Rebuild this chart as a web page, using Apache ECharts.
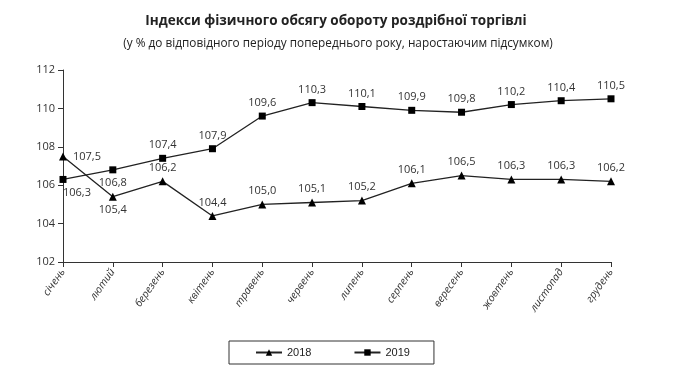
<!DOCTYPE html>
<html><head><meta charset="utf-8">
<script src="https://cdn.jsdelivr.net/npm/echarts@6/dist/echarts.min.js"></script>
<style>html,body{margin:0;padding:0;background:#fff}#c{width:690px;height:374px}</style>
</head><body><div id="c"></div>
<script>
const categories = ['січень','лютий','березень','квітень','травень','червень','липень','серпень','вересень','жовтень','листопад','грудень'];
const values2018 = [107.5,105.4,106.2,104.4,105.0,105.1,105.2,106.1,106.5,106.3,106.3,106.2];
const values2019 = [106.3,106.8,107.4,107.9,109.6,110.3,110.1,109.9,109.8,110.2,110.4,110.5];
const yTicks = [102,104,106,108,110,112];
const title = 'Індекси фізичного обсягу обороту роздрібної торгівлі';
const subtitle = '(у % до відповідного періоду попереднього року, наростаючим підсумком)';

const fmt = v => v.toFixed(1).replace('.', ',');
const labelPos2018 = {0:{position:'right',offset:[2,0]},1:{position:'bottom'}};
const labelPos2019 = {0:{position:'bottom',offset:[14,0]},1:{position:'bottom'}};
function mk(vals, pos){
  return vals.map((v,i)=> pos[i] ? {value:v, label:pos[i]} : v);
}
const font = '"Open Sans", sans-serif';
const chart = echarts.init(document.getElementById('c'));
chart.setOption({
  animation:false,
  textStyle:{fontFamily:font},
  title:[
    {text:title,left:331,top:9,textAlign:'center',textStyle:{fontFamily:font,fontSize:13.5,fontWeight:'bold',color:'#222'}},
    {text:subtitle,left:333,top:33,textAlign:'center',textStyle:{fontFamily:font,fontSize:11.8,fontWeight:'normal',color:'#222'}}
  ],
  grid:{left:63,right:79,top:70,bottom:112},
  xAxis:{type:'category',data:categories,boundaryGap:false,
    axisLine:{lineStyle:{color:'#333',width:1}},
    axisTick:{show:true,alignWithLabel:true,length:5,lineStyle:{color:'#333'}},
    axisLabel:{rotate:55,interval:0,fontSize:10.5,fontStyle:'italic',color:'#333',margin:8,fontFamily:font}},
  yAxis:{type:'value',min:102,max:112,interval:2,
    splitLine:{show:false},
    axisLine:{show:true,lineStyle:{color:'#333'}},
    axisTick:{show:true,length:5,lineStyle:{color:'#333'}},
    axisLabel:{fontSize:11,color:'#333',margin:8,fontFamily:font}},
  legend:{top:341,left:229,itemGap:42,itemWidth:26,itemHeight:8,
    borderColor:'#333',borderWidth:1,padding:[6,24,6,26],borderRadius:0,
    textStyle:{fontSize:11,color:'#222',fontFamily:'"Liberation Sans Narrow","Liberation Sans", sans-serif'},
    data:['2018','2019']},
  series:[
    {name:'2018',type:'line',data:mk(values2018,labelPos2018),symbol:'triangle',symbolSize:8,
      itemStyle:{color:'#000'},lineStyle:{color:'#222',width:1.3},
      label:{show:true,position:'top',formatter:p=>fmt(p.value),fontSize:11,color:'#333',distance:4}},
    {name:'2019',type:'line',data:mk(values2019,labelPos2019),symbol:'rect',symbolSize:7,
      itemStyle:{color:'#000'},lineStyle:{color:'#222',width:1.3},
      label:{show:true,position:'top',formatter:p=>fmt(p.value),fontSize:11,color:'#333',distance:4}}
  ]
});
</script></body></html>
